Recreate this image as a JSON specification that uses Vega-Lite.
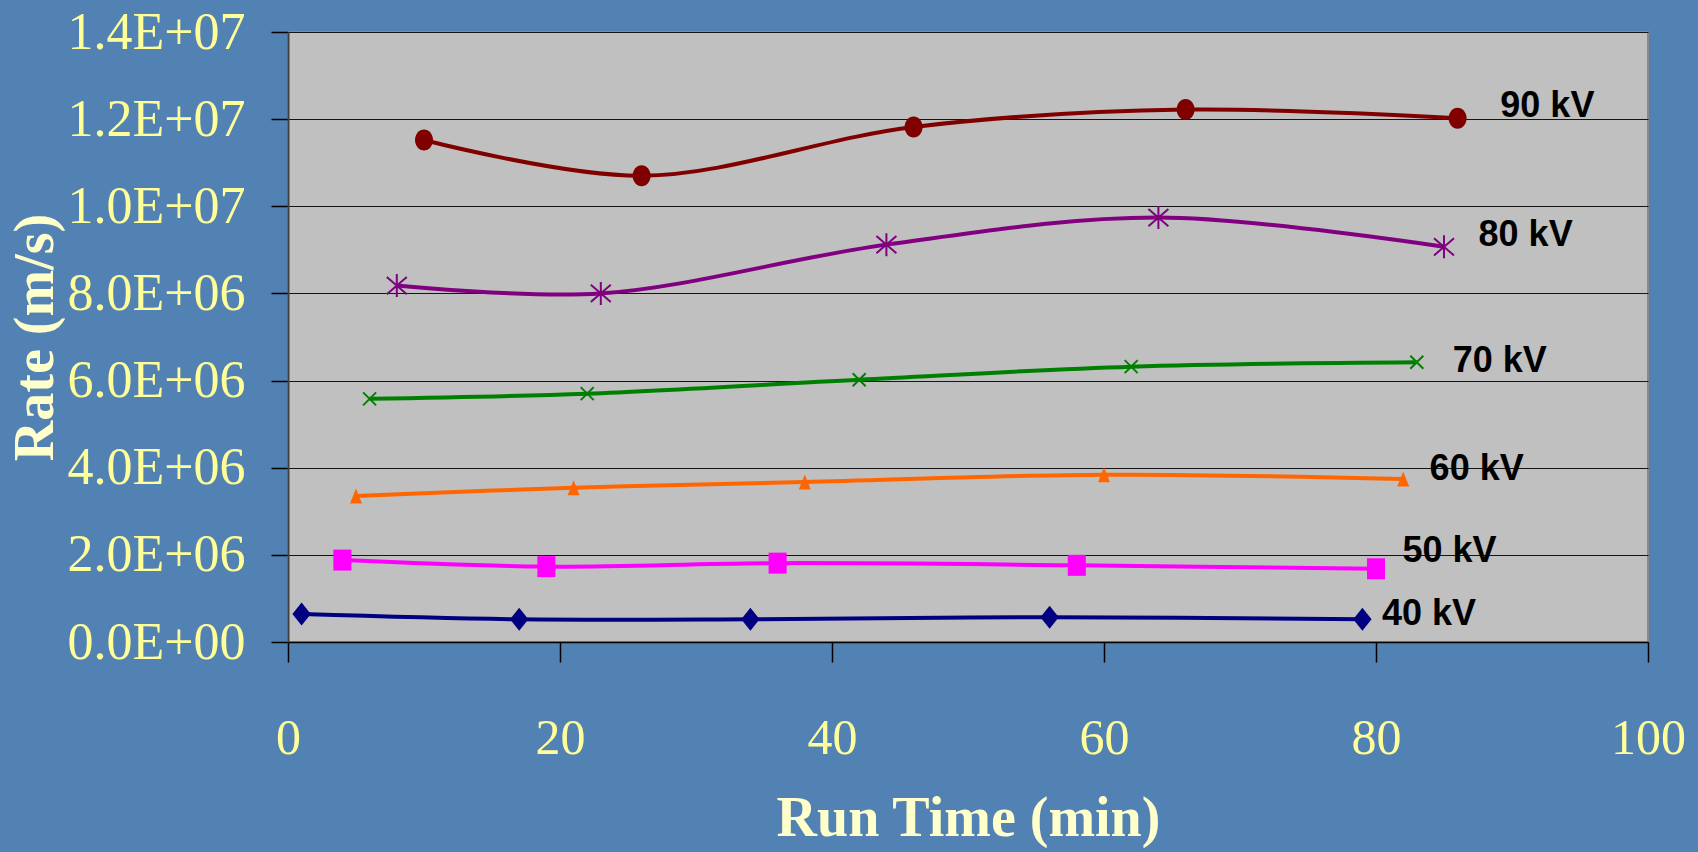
{
  "$schema": "https://vega.github.io/schema/vega-lite/v6.json",
  "width": 1360,
  "height": 610,
  "autosize": {"type": "none"},
  "padding": {"left": 288, "top": 32, "right": 50, "bottom": 210},
  "background": "#5282B3",
  "config": {
    "view": {"fill": "#C0C0C0", "stroke": "#8A8A8A", "strokeWidth": 2},
    "font": "Liberation Serif"
  },
  "datasets": {
    "rates": [
      {"series": "90 kV", "time": 10, "rate": 11520000},
      {"series": "90 kV", "time": 26, "rate": 10700000},
      {"series": "90 kV", "time": 46, "rate": 11820000},
      {"series": "90 kV", "time": 66, "rate": 12220000},
      {"series": "90 kV", "time": 86, "rate": 12020000},
      {"series": "80 kV", "time": 8, "rate": 8180000},
      {"series": "80 kV", "time": 23, "rate": 8000000},
      {"series": "80 kV", "time": 44, "rate": 9120000},
      {"series": "80 kV", "time": 64, "rate": 9740000},
      {"series": "80 kV", "time": 85, "rate": 9070000},
      {"series": "70 kV", "time": 6, "rate": 5580000},
      {"series": "70 kV", "time": 22, "rate": 5700000},
      {"series": "70 kV", "time": 42, "rate": 6020000},
      {"series": "70 kV", "time": 62, "rate": 6320000},
      {"series": "70 kV", "time": 83, "rate": 6420000},
      {"series": "60 kV", "time": 5, "rate": 3350000},
      {"series": "60 kV", "time": 21, "rate": 3540000},
      {"series": "60 kV", "time": 38, "rate": 3670000},
      {"series": "60 kV", "time": 60, "rate": 3840000},
      {"series": "60 kV", "time": 82, "rate": 3740000},
      {"series": "50 kV", "time": 4, "rate": 1880000},
      {"series": "50 kV", "time": 19, "rate": 1730000},
      {"series": "50 kV", "time": 36, "rate": 1810000},
      {"series": "50 kV", "time": 58, "rate": 1760000},
      {"series": "50 kV", "time": 80, "rate": 1680000},
      {"series": "40 kV", "time": 1, "rate": 640000},
      {"series": "40 kV", "time": 17, "rate": 520000},
      {"series": "40 kV", "time": 34, "rate": 520000},
      {"series": "40 kV", "time": 56, "rate": 570000},
      {"series": "40 kV", "time": 79, "rate": 520000}
    ],
    "tags": [
      {"series": "90 kV", "time": 92.6, "rate": 12300000},
      {"series": "80 kV", "time": 91.0, "rate": 9340000},
      {"series": "70 kV", "time": 89.1, "rate": 6450000},
      {"series": "60 kV", "time": 87.4, "rate": 3970000},
      {"series": "50 kV", "time": 85.4, "rate": 2090000},
      {"series": "40 kV", "time": 83.9, "rate": 640000}
    ]
  },
  "encoding": {
    "x": {
      "field": "time",
      "type": "quantitative",
      "scale": {"domain": [0, 100], "nice": false, "zero": false},
      "axis": {
        "title": "Run Time (min)",
        "values": [0, 20, 40, 60, 80, 100],
        "grid": false,
        "domainColor": "#000000",
        "domainWidth": 1.5,
        "tickColor": "#000000",
        "tickSize": 20,
        "tickWidth": 1.5,
        "labelFont": "Liberation Serif",
        "labelFontSize": 50,
        "labelColor": "#FFFF99",
        "labelBaseline": "alphabetic",
        "labelPadding": 91,
        "labelFlush": false,
        "labelOverlap": false,
        "titleFont": "Liberation Serif",
        "titleFontSize": 56,
        "titleFontWeight": "bold",
        "titleColor": "#FFFFCC",
        "titleX": 680,
        "titleY": 193,
        "titleAlign": "center",
        "titleBaseline": "alphabetic"
      }
    },
    "y": {
      "field": "rate",
      "type": "quantitative",
      "scale": {"domain": [0, 14000000], "nice": false},
      "axis": {
        "title": "Rate (m/s)",
        "values": [0, 2000000, 4000000, 6000000, 8000000, 10000000, 12000000, 14000000],
        "labelExpr": "datum.value == 0 ? '0.0E+00' : (datum.value < 10000000 ? format(datum.value / 1000000, '.1f') + 'E+06' : format(datum.value / 10000000, '.1f') + 'E+07')",
        "grid": true,
        "gridColor": "#151515",
        "gridWidth": 1.2,
        "domainColor": "#404040",
        "domainWidth": 2,
        "tickColor": "#000000",
        "tickSize": 17,
        "tickWidth": 1.5,
        "labelFont": "Liberation Serif",
        "labelFontSize": 52,
        "labelColor": "#FFFF99",
        "labelPadding": 26,
        "labelBaseline": "middle",
        "labelFlush": false,
        "labelOverlap": false,
        "titleFont": "Liberation Serif",
        "titleFontSize": 56,
        "titleFontWeight": "bold",
        "titleColor": "#FFFFCC",
        "titleAngle": -90,
        "titleX": -253,
        "titleY": 305,
        "titleAlign": "center",
        "titleBaseline": "middle"
      }
    }
  },
  "layer": [
    {
      "data": {"name": "rates"},
      "mark": {"type": "line", "interpolate": "catmull-rom", "strokeWidth": 4},
      "encoding": {
        "color": {
          "field": "series",
          "type": "nominal",
          "scale": {
            "domain": ["90 kV", "80 kV", "70 kV", "60 kV", "50 kV", "40 kV"],
            "range": ["#800000", "#800080", "#008000", "#FF6600", "#FF00FF", "#000080"]
          },
          "legend": null
        },
        "detail": {"field": "series"}
      }
    },
    {
      "data": {"name": "rates"},
      "transform": [{"filter": "datum.series == '90 kV'"}],
      "mark": {"type": "point", "filled": true, "opacity": 1, "color": "#800000", "size": 441,
               "shape": "M0.86,0A0.86,1 0 1,1 -0.86,0A0.86,1 0 1,1 0.86,0Z"}
    },
    {
      "data": {"name": "rates"},
      "transform": [{"filter": "datum.series == '80 kV'"}],
      "mark": {"type": "point", "filled": false, "opacity": 1, "color": "#800080", "size": 529, "strokeWidth": 2,
               "shape": "M0,-1L0,1M-0.87,-0.75L0.87,0.75M-0.87,0.75L0.87,-0.75"}
    },
    {
      "data": {"name": "rates"},
      "transform": [{"filter": "datum.series == '70 kV'"}],
      "mark": {"type": "point", "filled": false, "opacity": 1, "color": "#008000", "size": 169, "strokeWidth": 2,
               "shape": "M-1,-1L1,1M-1,1L1,-1"}
    },
    {
      "data": {"name": "rates"},
      "transform": [{"filter": "datum.series == '60 kV'"}],
      "mark": {"type": "point", "filled": true, "opacity": 1, "color": "#FF6600", "size": 225,
               "shape": "M0,-1L0.8,1L-0.8,1Z"}
    },
    {
      "data": {"name": "rates"},
      "transform": [{"filter": "datum.series == '50 kV'"}],
      "mark": {"type": "point", "filled": true, "opacity": 1, "color": "#FF00FF", "size": 441,
               "shape": "M-0.86,-1L0.86,-1L0.86,1L-0.86,1Z"}
    },
    {
      "data": {"name": "rates"},
      "transform": [{"filter": "datum.series == '40 kV'"}],
      "mark": {"type": "point", "filled": true, "opacity": 1, "color": "#000080", "size": 529,
               "shape": "M-0.8,0L0,-1L0.8,0L0,1Z"}
    },
    {
      "data": {"name": "tags"},
      "mark": {"type": "text", "font": "Liberation Sans", "fontWeight": "bold", "fontSize": 36,
               "color": "#000000", "align": "center", "baseline": "middle"},
      "encoding": {"text": {"field": "series"}}
    }
  ]
}
